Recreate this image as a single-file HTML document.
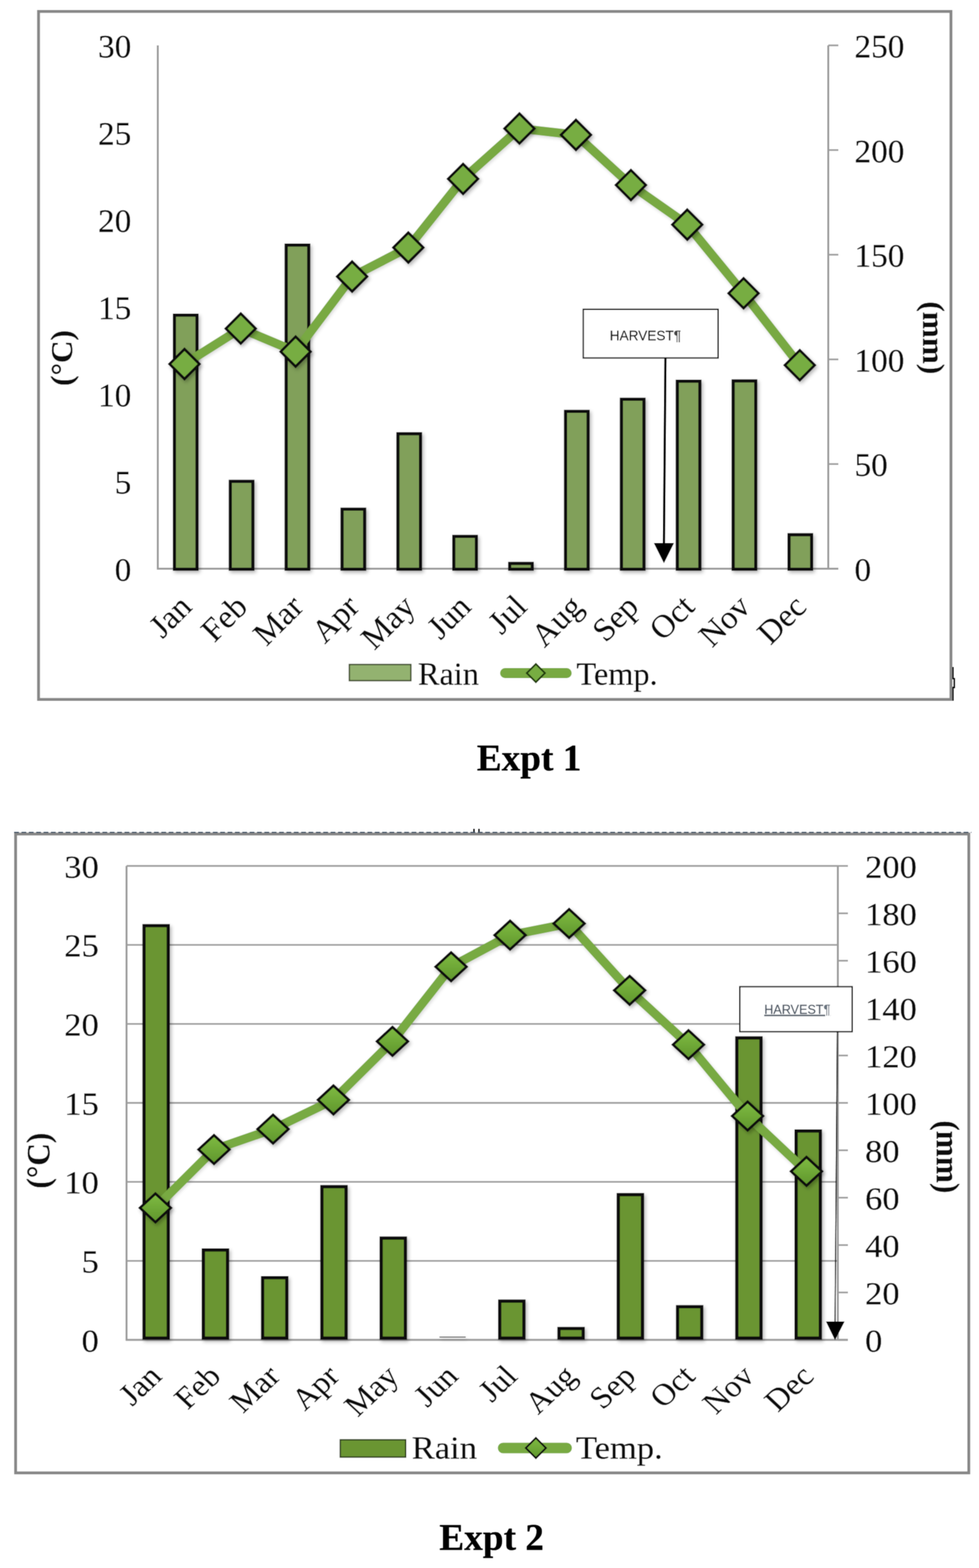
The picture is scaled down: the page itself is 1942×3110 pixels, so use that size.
<!DOCTYPE html>
<html><head><meta charset="utf-8"><title>Rain and temperature charts</title>
<style>html,body{margin:0;padding:0;background:#fff;}body{width:1942px;height:3110px;overflow:hidden;}svg{display:block;}text{stroke:#111;stroke-width:0.4px;stroke-linejoin:round;}</style>
</head><body>
<svg width="1942" height="3110" viewBox="0 0 1942 3110">
<defs>
<filter id="sh" x="-20%" y="-20%" width="150%" height="150%"><feDropShadow dx="3" dy="4" stdDeviation="3.5" flood-color="#000" flood-opacity="0.28"/></filter>
<filter id="sh2" x="-10%" y="-10%" width="130%" height="130%"><feDropShadow dx="2" dy="3" stdDeviation="3" flood-color="#000" flood-opacity="0.15"/></filter>
<filter id="soft" filterUnits="userSpaceOnUse" x="0" y="0" width="1942" height="3110"><feConvolveMatrix order="3" kernelMatrix="1 2 1 2 4 2 1 2 1" divisor="16" edgeMode="none"/></filter>
<linearGradient id="dg" x1="0" y1="0" x2="0" y2="1"><stop offset="0" stop-color="#7fbb42"/><stop offset="1" stop-color="#5f962c"/></linearGradient>
</defs>
<rect x="0" y="0" width="1942" height="3110" fill="#fff"/>
<g filter="url(#soft)">
<rect x="76.5" y="22.75" width="1809.8" height="1364.45" fill="#fff" stroke="#878787" stroke-width="5.6"/>
<line x1="313" y1="90" x2="313" y2="1129.5" stroke="#9d9d9d" stroke-width="4"/>
<line x1="1643" y1="90" x2="1643" y2="1129.5" stroke="#9d9d9d" stroke-width="4"/>
<line x1="1643" y1="1128" x2="1663" y2="1128" stroke="#9d9d9d" stroke-width="3.4"/>
<line x1="1643" y1="920.4" x2="1663" y2="920.4" stroke="#9d9d9d" stroke-width="3.4"/>
<line x1="1643" y1="712.8" x2="1663" y2="712.8" stroke="#9d9d9d" stroke-width="3.4"/>
<line x1="1643" y1="505.2" x2="1663" y2="505.2" stroke="#9d9d9d" stroke-width="3.4"/>
<line x1="1643" y1="297.6" x2="1663" y2="297.6" stroke="#9d9d9d" stroke-width="3.4"/>
<line x1="1643" y1="90" x2="1663" y2="90" stroke="#9d9d9d" stroke-width="3.4"/>
<line x1="311.5" y1="1128" x2="1663" y2="1128" stroke="#9d9d9d" stroke-width="3.8"/>
<g font-family="'Liberation Serif', 'Times New Roman', serif" fill="#111">
<text transform="translate(260.5 1152)" font-size="66" text-anchor="end">0</text>
<text transform="translate(260.5 979)" font-size="66" text-anchor="end">5</text>
<text transform="translate(260.5 806)" font-size="66" text-anchor="end">10</text>
<text transform="translate(260.5 633)" font-size="66" text-anchor="end">15</text>
<text transform="translate(260.5 460)" font-size="66" text-anchor="end">20</text>
<text transform="translate(260.5 287)" font-size="66" text-anchor="end">25</text>
<text transform="translate(260.5 114)" font-size="66" text-anchor="end">30</text>
<text transform="translate(1695 1152)" font-size="66">0</text>
<text transform="translate(1695 944.4)" font-size="66">50</text>
<text transform="translate(1695 736.8)" font-size="66">100</text>
<text transform="translate(1695 529.2)" font-size="66">150</text>
<text transform="translate(1695 321.6)" font-size="66">200</text>
<text transform="translate(1695 114)" font-size="66">250</text>
</g>
<text transform="translate(142.5 710) rotate(-90)" font-size="62" text-anchor="middle" font-weight="bold" font-family="'Liberation Serif', 'Times New Roman', serif" fill="#111">(°C)</text>
<text transform="translate(1831 670) rotate(90)" font-size="62" text-anchor="middle" font-weight="bold" font-family="'Liberation Serif', 'Times New Roman', serif" fill="#111">(mm)</text>
<g filter="url(#sh)" fill="#81a05a" stroke="#0d0d0d" stroke-width="6.2">
<rect x="346.02" y="625.1" width="44.8" height="503.9"/>
<rect x="456.85" y="954.7" width="44.8" height="174.3"/>
<rect x="567.68" y="486.1" width="44.8" height="642.9"/>
<rect x="678.52" y="1009.9" width="44.8" height="119.1"/>
<rect x="789.35" y="860.3" width="44.8" height="268.7"/>
<rect x="900.18" y="1063.9" width="44.8" height="65.1"/>
<rect x="1011.02" y="1117.5" width="44.8" height="11.5"/>
<rect x="1121.85" y="815.9" width="44.8" height="313.1"/>
<rect x="1232.68" y="791.9" width="44.8" height="337.1"/>
<rect x="1343.52" y="756.1" width="44.8" height="372.9"/>
<rect x="1454.35" y="755.5" width="44.8" height="373.5"/>
<rect x="1565.18" y="1060.6" width="44.8" height="68.4"/>
</g>
<polyline points="366,722 477.6,651.7 586.4,697.4 698.5,548.5 810,491 918.6,354.8 1030.4,254.9 1142.5,267.5 1251.5,367.1 1363.3,445.5 1475,581.7 1586.5,724.3" fill="none" stroke="#78a943" stroke-width="17.5" stroke-linejoin="round" stroke-linecap="round" filter="url(#sh2)"/>
<g filter="url(#sh)" fill="#77ad42" stroke="#0a0a0a" stroke-width="5" stroke-linejoin="miter">
<path d="M366 692.4L395.6 722L366 751.6L336.4 722Z"/>
<path d="M477.6 622.1L507.2 651.7L477.6 681.3L448 651.7Z"/>
<path d="M586.4 667.8L616 697.4L586.4 727L556.8 697.4Z"/>
<path d="M698.5 518.9L728.1 548.5L698.5 578.1L668.9 548.5Z"/>
<path d="M810 461.4L839.6 491L810 520.6L780.4 491Z"/>
<path d="M918.6 325.2L948.2 354.8L918.6 384.4L889 354.8Z"/>
<path d="M1030.4 225.3L1060 254.9L1030.4 284.5L1000.8 254.9Z"/>
<path d="M1142.5 237.9L1172.1 267.5L1142.5 297.1L1112.9 267.5Z"/>
<path d="M1251.5 337.5L1281.1 367.1L1251.5 396.7L1221.9 367.1Z"/>
<path d="M1363.3 415.9L1392.9 445.5L1363.3 475.1L1333.7 445.5Z"/>
<path d="M1475 552.1L1504.6 581.7L1475 611.3L1445.4 581.7Z"/>
<path d="M1586.5 694.7L1616.1 724.3L1586.5 753.9L1556.9 724.3Z"/>
</g>
<g font-family="'Liberation Serif', 'Times New Roman', serif" fill="#111" text-anchor="end">
<text transform="translate(383.42 1207) rotate(-45)" font-size="65">Jan</text>
<text transform="translate(494.25 1207) rotate(-45)" font-size="65">Feb</text>
<text transform="translate(605.08 1207) rotate(-45)" font-size="65">Mar</text>
<text transform="translate(715.92 1207) rotate(-45)" font-size="65">Apr</text>
<text transform="translate(826.75 1207) rotate(-45)" font-size="65">May</text>
<text transform="translate(937.58 1207) rotate(-45)" font-size="65">Jun</text>
<text transform="translate(1048.42 1207) rotate(-45)" font-size="65">Jul</text>
<text transform="translate(1159.25 1207) rotate(-45)" font-size="65">Aug</text>
<text transform="translate(1270.08 1207) rotate(-45)" font-size="65">Sep</text>
<text transform="translate(1380.92 1207) rotate(-45)" font-size="65">Oct</text>
<text transform="translate(1491.75 1207) rotate(-45)" font-size="65">Nov</text>
<text transform="translate(1602.58 1207) rotate(-45)" font-size="65">Dec</text>
</g>
<rect x="1157" y="613.5" width="267.5" height="96.5" fill="#fff" stroke="#0a0a0a" stroke-width="2.6"/>
<text x="1209.5" y="675.3" font-family="'Liberation Sans', Arial, sans-serif" font-size="27" fill="#111" style="stroke:#111;stroke-width:0.3px">HARVEST<tspan fill="#444">¶</tspan></text>
<line x1="1320" y1="710" x2="1317" y2="1080" stroke="#050505" stroke-width="4.5"/>
<path d="M1297 1077L1337 1077L1317 1117Z" fill="#050505"/>
<rect x="693" y="1318" width="122" height="32" fill="#93b26f" stroke="#3d4a2c" stroke-width="2.6"/>
<text transform="translate(829 1357.5)" font-size="64" font-family="'Liberation Serif', 'Times New Roman', serif" fill="#111">Rain</text>
<line x1="1002" y1="1335" x2="1124" y2="1335" stroke="#78a943" stroke-width="20" stroke-linecap="round"/>
<path d="M1063 1317L1081 1335L1063 1353L1045 1335Z" fill="#77ad42" stroke="#24400c" stroke-width="3.5"/>
<text transform="translate(1143.6 1358)" font-size="64" font-family="'Liberation Serif', 'Times New Roman', serif" fill="#111">Temp.</text>
<text x="1049.5" y="1528.3" text-anchor="middle" font-family="'Liberation Serif', 'Times New Roman', serif" font-weight="bold" font-size="74" fill="#000">Expt 1</text>
<path d="M1890.3 1323V1346H1893V1363.6H1890.3V1389.7" fill="none" stroke="#050505" stroke-width="2.6"/>
<rect x="31" y="1654.3" width="1890.7" height="1267" fill="#fff" stroke="#878787" stroke-width="5.6"/>
<line x1="251" y1="2500.83" x2="1662" y2="2500.83" stroke="#9d9d9d" stroke-width="3.4"/>
<line x1="251" y1="2344.17" x2="1662" y2="2344.17" stroke="#9d9d9d" stroke-width="3.4"/>
<line x1="251" y1="2187.5" x2="1662" y2="2187.5" stroke="#9d9d9d" stroke-width="3.4"/>
<line x1="251" y1="2030.83" x2="1662" y2="2030.83" stroke="#9d9d9d" stroke-width="3.4"/>
<line x1="251" y1="1874.17" x2="1662" y2="1874.17" stroke="#9d9d9d" stroke-width="3.4"/>
<line x1="251" y1="1717.5" x2="1662" y2="1717.5" stroke="#9d9d9d" stroke-width="3.4"/>
<line x1="251" y1="1717.5" x2="251" y2="2659" stroke="#9d9d9d" stroke-width="4"/>
<line x1="1662" y1="1717.5" x2="1662" y2="2659" stroke="#9d9d9d" stroke-width="4"/>
<line x1="1662" y1="2657.5" x2="1682" y2="2657.5" stroke="#9d9d9d" stroke-width="3.4"/>
<line x1="1662" y1="2563.5" x2="1682" y2="2563.5" stroke="#9d9d9d" stroke-width="3.4"/>
<line x1="1662" y1="2469.5" x2="1682" y2="2469.5" stroke="#9d9d9d" stroke-width="3.4"/>
<line x1="1662" y1="2375.5" x2="1682" y2="2375.5" stroke="#9d9d9d" stroke-width="3.4"/>
<line x1="1662" y1="2281.5" x2="1682" y2="2281.5" stroke="#9d9d9d" stroke-width="3.4"/>
<line x1="1662" y1="2187.5" x2="1682" y2="2187.5" stroke="#9d9d9d" stroke-width="3.4"/>
<line x1="1662" y1="2093.5" x2="1682" y2="2093.5" stroke="#9d9d9d" stroke-width="3.4"/>
<line x1="1662" y1="1999.5" x2="1682" y2="1999.5" stroke="#9d9d9d" stroke-width="3.4"/>
<line x1="1662" y1="1905.5" x2="1682" y2="1905.5" stroke="#9d9d9d" stroke-width="3.4"/>
<line x1="1662" y1="1811.5" x2="1682" y2="1811.5" stroke="#9d9d9d" stroke-width="3.4"/>
<line x1="1662" y1="1717.5" x2="1682" y2="1717.5" stroke="#9d9d9d" stroke-width="3.4"/>
<line x1="249.5" y1="2657.5" x2="1682" y2="2657.5" stroke="#9d9d9d" stroke-width="3.8"/>
<g font-family="'Liberation Serif', 'Times New Roman', serif" fill="#111">
<text transform="translate(196 2680.5) scale(1.07 1)" font-size="64" text-anchor="end">0</text>
<text transform="translate(196 2523.83) scale(1.07 1)" font-size="64" text-anchor="end">5</text>
<text transform="translate(196 2367.17) scale(1.07 1)" font-size="64" text-anchor="end">10</text>
<text transform="translate(196 2210.5) scale(1.07 1)" font-size="64" text-anchor="end">15</text>
<text transform="translate(196 2053.83) scale(1.07 1)" font-size="64" text-anchor="end">20</text>
<text transform="translate(196 1897.17) scale(1.07 1)" font-size="64" text-anchor="end">25</text>
<text transform="translate(196 1740.5) scale(1.07 1)" font-size="64" text-anchor="end">30</text>
<text transform="translate(1716 2680.5) scale(1.07 1)" font-size="64">0</text>
<text transform="translate(1716 2586.5) scale(1.07 1)" font-size="64">20</text>
<text transform="translate(1716 2492.5) scale(1.07 1)" font-size="64">40</text>
<text transform="translate(1716 2398.5) scale(1.07 1)" font-size="64">60</text>
<text transform="translate(1716 2304.5) scale(1.07 1)" font-size="64">80</text>
<text transform="translate(1716 2210.5) scale(1.07 1)" font-size="64">100</text>
<text transform="translate(1716 2116.5) scale(1.07 1)" font-size="64">120</text>
<text transform="translate(1716 2022.5) scale(1.07 1)" font-size="64">140</text>
<text transform="translate(1716 1928.5) scale(1.07 1)" font-size="64">160</text>
<text transform="translate(1716 1834.5) scale(1.07 1)" font-size="64">180</text>
<text transform="translate(1716 1740.5) scale(1.07 1)" font-size="64">200</text>
</g>
<text transform="translate(98 2302) scale(1.07 1) rotate(-90)" font-size="62" text-anchor="middle" font-weight="bold" font-family="'Liberation Serif', 'Times New Roman', serif" fill="#111">(°C)</text>
<text transform="translate(1858 2294.5) scale(1.07 1) rotate(90)" font-size="62" text-anchor="middle" font-weight="bold" font-family="'Liberation Serif', 'Times New Roman', serif" fill="#111">(mm)</text>
<g filter="url(#sh)" fill="#6b9533" stroke="#0d0d0d" stroke-width="6.4">
<rect x="285.79" y="1836" width="48" height="818"/>
<rect x="403.38" y="2479.2" width="48" height="174.8"/>
<rect x="520.96" y="2534.2" width="48" height="119.8"/>
<rect x="638.54" y="2353.7" width="48" height="300.3"/>
<rect x="756.12" y="2455.7" width="48" height="198.3"/>
<rect x="871.71" y="2651" width="52" height="2" fill="#444" stroke="none"/>
<rect x="991.29" y="2580.7" width="48" height="73.3"/>
<rect x="1108.88" y="2635" width="48" height="19"/>
<rect x="1226.46" y="2369.5" width="48" height="284.5"/>
<rect x="1344.04" y="2591.8" width="48" height="62.2"/>
<rect x="1461.62" y="2058.6" width="48" height="595.4"/>
<rect x="1579.21" y="2243.2" width="48" height="410.8"/>
</g>
<polyline points="308.3,2395.7 424.5,2280 541.6,2239.5 661.4,2181.6 778.5,2065.5 894.8,1917.5 1011.8,1854.8 1128.9,1831.7 1249,1964.2 1365.7,2072 1483,2213.5 1599.8,2323.3" fill="none" stroke="#78aa42" stroke-width="17.5" stroke-linejoin="round" stroke-linecap="round" filter="url(#sh2)"/>
<g filter="url(#sh)" fill="url(#dg)" stroke="#0a0a0a" stroke-width="5" stroke-linejoin="miter">
<path d="M308.3 2367.3L339 2395.7L308.3 2424.1L277.6 2395.7Z"/>
<path d="M424.5 2251.6L455.2 2280L424.5 2308.4L393.8 2280Z"/>
<path d="M541.6 2211.1L572.3 2239.5L541.6 2267.9L510.9 2239.5Z"/>
<path d="M661.4 2153.2L692.1 2181.6L661.4 2210L630.7 2181.6Z"/>
<path d="M778.5 2037.1L809.2 2065.5L778.5 2093.9L747.8 2065.5Z"/>
<path d="M894.8 1889.1L925.5 1917.5L894.8 1945.9L864.1 1917.5Z"/>
<path d="M1011.8 1826.4L1042.5 1854.8L1011.8 1883.2L981.1 1854.8Z"/>
<path d="M1128.9 1803.3L1159.6 1831.7L1128.9 1860.1L1098.2 1831.7Z"/>
<path d="M1249 1935.8L1279.7 1964.2L1249 1992.6L1218.3 1964.2Z"/>
<path d="M1365.7 2043.6L1396.4 2072L1365.7 2100.4L1335 2072Z"/>
<path d="M1483 2185.1L1513.7 2213.5L1483 2241.9L1452.3 2213.5Z"/>
<path d="M1599.8 2294.9L1630.5 2323.3L1599.8 2351.7L1569.1 2323.3Z"/>
</g>
<g font-family="'Liberation Serif', 'Times New Roman', serif" fill="#111" text-anchor="end">
<text transform="translate(323.79 2733) scale(1.07 1) rotate(-45)" font-size="61">Jan</text>
<text transform="translate(441.38 2733) scale(1.07 1) rotate(-45)" font-size="61">Feb</text>
<text transform="translate(558.96 2733) scale(1.07 1) rotate(-45)" font-size="61">Mar</text>
<text transform="translate(676.54 2733) scale(1.07 1) rotate(-45)" font-size="61">Apr</text>
<text transform="translate(794.12 2733) scale(1.07 1) rotate(-45)" font-size="61">May</text>
<text transform="translate(911.71 2733) scale(1.07 1) rotate(-45)" font-size="61">Jun</text>
<text transform="translate(1029.29 2733) scale(1.07 1) rotate(-45)" font-size="61">Jul</text>
<text transform="translate(1146.88 2733) scale(1.07 1) rotate(-45)" font-size="61">Aug</text>
<text transform="translate(1264.46 2733) scale(1.07 1) rotate(-45)" font-size="61">Sep</text>
<text transform="translate(1382.04 2733) scale(1.07 1) rotate(-45)" font-size="61">Oct</text>
<text transform="translate(1499.62 2733) scale(1.07 1) rotate(-45)" font-size="61">Nov</text>
<text transform="translate(1617.21 2733) scale(1.07 1) rotate(-45)" font-size="61">Dec</text>
</g>
<rect x="1467.5" y="1957" width="222.9" height="89.2" fill="#fff" stroke="#0a0a0a" stroke-width="2.6"/>
<text x="1516" y="2010.8" font-family="'Liberation Sans', Arial, sans-serif" font-size="25" fill="#4a5562" text-decoration="underline" style="stroke:#4a5562;stroke-width:0.3px">HARVEST<tspan fill="#6b7480">¶</tspan></text>
<line x1="1661" y1="2046.2" x2="1656.5" y2="2625" stroke="#050505" stroke-width="2.2"/>
<path d="M1638.4 2621L1675.4 2621L1656.4 2658Z" fill="#050505"/>
<rect x="675" y="2855.8" width="129.7" height="34.2" fill="#6b9533" stroke="#2c3d1c" stroke-width="2.6"/>
<text transform="translate(816.8 2892.8) scale(1.07 1)" font-size="64" font-family="'Liberation Serif', 'Times New Roman', serif" fill="#111">Rain</text>
<line x1="998" y1="2872" x2="1124" y2="2872" stroke="#78aa42" stroke-width="21" stroke-linecap="round"/>
<path d="M1063 2852L1083 2872L1063 2892L1043 2872Z" fill="url(#dg)" stroke="#111" stroke-width="3.5"/>
<text transform="translate(1142.5 2893.3) scale(1.07 1)" font-size="64" font-family="'Liberation Serif', 'Times New Roman', serif" fill="#111">Temp.</text>
<text x="975.3" y="3074.3" text-anchor="middle" font-family="'Liberation Serif', 'Times New Roman', serif" font-weight="bold" font-size="74" fill="#000">Expt 2</text>
<line x1="28" y1="1651" x2="1927" y2="1651" stroke="#34495e" stroke-width="2" stroke-dasharray="9.5 5.1"/>
<rect x="938.9" y="1644" width="2.6" height="6" fill="#000"/><rect x="948.8" y="1644" width="2.6" height="6" fill="#000"/>
</g>
</svg>
</body></html>
